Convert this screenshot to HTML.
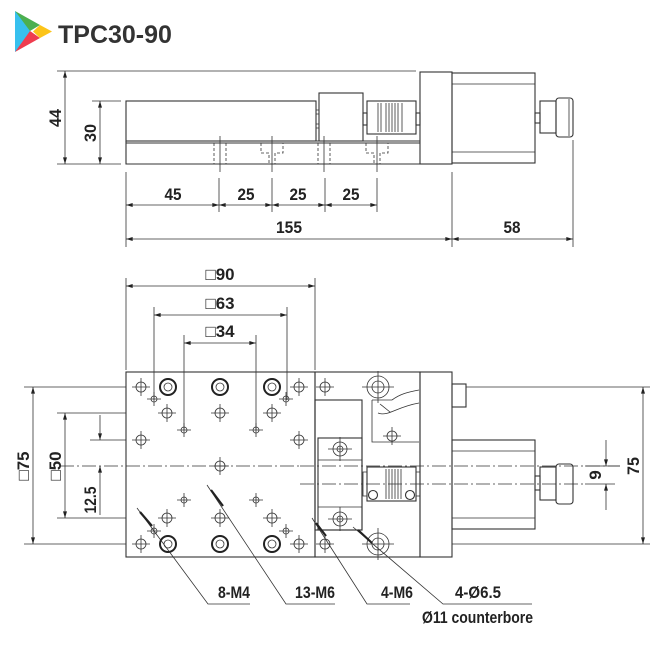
<!DOCTYPE html>
<html><head><meta charset="utf-8"><style>
html,body{margin:0;padding:0;background:#fff}
svg{display:block}
text{font-family:"Liberation Sans",sans-serif;fill:#222}
.l{stroke:#333;stroke-width:1.1;fill:none}
.t{stroke:#333;stroke-width:0.8;fill:none}
.d{stroke:#333;stroke-width:0.8;fill:none;stroke-dasharray:14 3 2 3}
.h{stroke:#333;stroke-width:0.8;fill:none;stroke-dasharray:3 2}
.dim{font-size:17px;font-weight:bold}
</style></head><body>
<svg width="660" height="666" viewBox="0 0 660 666" xmlns="http://www.w3.org/2000/svg">
<defs>
<marker id="a" viewBox="0 0 10 6" refX="10" refY="3" markerWidth="12" markerHeight="4" orient="auto-start-reverse" markerUnits="userSpaceOnUse"><path d="M0,0 L10,3 L0,6z" fill="#222"/></marker>
<g id="hs"><circle r="5" class="t"/><path d="M-9,0H9M0,-9V9" class="t"/></g>
<g id="hm"><circle r="3" class="t"/><path d="M-7,0H7M0,-7V7" class="t"/></g>
<g id="cb"><circle r="8" stroke="#222" stroke-width="2" fill="none"/><circle r="4" class="t"/></g>
</defs>
<!-- logo -->
<polygon points="15,11 15,52 30,37 30,26" fill="#37c0ee"/>
<polygon points="15,11 40,25 30,31" fill="#4caf50"/>
<polygon points="15,52 40,38 30,31" fill="#ef3d4f"/>
<polygon points="40,25 52,31.5 40,38 33,31.5" fill="#fcc419"/>
<text x="58" y="43" style="font-size:25px;font-weight:bold;fill:#333">TPC30-90</text>

<!-- SIDE VIEW -->
<path class="t" d="M57,71H416M57,164H121M92,101H121"/>
<line class="t" x1="65" y1="71" x2="65" y2="164" marker-start="url(#a)" marker-end="url(#a)"/>
<line class="t" x1="100" y1="101" x2="100" y2="164" marker-start="url(#a)" marker-end="url(#a)"/>
<text class="dim" transform="translate(61,118) rotate(-90)" text-anchor="middle" textLength="18" lengthAdjust="spacingAndGlyphs">44</text>
<text class="dim" transform="translate(96,133) rotate(-90)" text-anchor="middle" textLength="18" lengthAdjust="spacingAndGlyphs">30</text>
<rect class="l" x="126" y="101" width="190" height="40"/>
<path class="l" d="M126,141V164H420M126,143H420M126,141H420"/>
<path class="t" d="M316,110h3v4h-3M316,124h3v4h-3M319,101V141"/>
<rect class="l" x="319" y="93" width="44" height="48"/>
<rect class="l" x="363" y="113" width="4" height="12"/>
<rect class="l" x="367" y="101" width="49" height="33"/>
<path class="t" d="M378,103v29M381,103v29M386,103v29M389,103v29M392,103v29M395,103v29M398,103v29M402,103v29"/>
<rect class="l" x="416" y="113" width="4" height="12"/>
<rect class="l" x="420" y="72" width="32" height="92"/>
<rect class="l" x="452" y="73" width="83" height="90"/>
<path class="t" d="M452,84H535M452,152H535"/>
<rect class="l" x="535" y="113" width="5" height="10"/>
<rect class="l" x="540" y="101" width="16" height="32"/>
<rect class="l" x="556" y="98" width="17" height="39" rx="3"/>
<path class="t" d="M569,99v37"/>
<path class="h" d="M214,143V164M226,143V164M318,143V164M330,143V164"/>
<path class="t" d="M220,136V172M324,136V172M272,136V172M377,136V172"/>
<path class="h" d="M261,143h22v10h-8v11h-6M261,143v10h8v11M366,143h22v10h-8v11M366,143v10h8v11"/>
<!-- dims -->
<path class="t" d="M126,172V247M219,178V212M272,178V212M325,178V212M377,178V212M452,172V247M573,140V247"/>
<line class="t" x1="126" y1="205" x2="219" y2="205" marker-start="url(#a)" marker-end="url(#a)"/>
<line class="t" x1="219" y1="205" x2="272" y2="205" marker-start="url(#a)" marker-end="url(#a)"/>
<line class="t" x1="272" y1="205" x2="325" y2="205" marker-start="url(#a)" marker-end="url(#a)"/>
<line class="t" x1="325" y1="205" x2="377" y2="205" marker-start="url(#a)" marker-end="url(#a)"/>
<line class="t" x1="126" y1="239" x2="452" y2="239" marker-start="url(#a)" marker-end="url(#a)"/>
<line class="t" x1="452" y1="239" x2="573" y2="239" marker-start="url(#a)" marker-end="url(#a)"/>
<text class="dim" x="173" y="200" text-anchor="middle" textLength="17" lengthAdjust="spacingAndGlyphs">45</text>
<text class="dim" x="246" y="200" text-anchor="middle" textLength="17" lengthAdjust="spacingAndGlyphs">25</text>
<text class="dim" x="298" y="200" text-anchor="middle" textLength="17" lengthAdjust="spacingAndGlyphs">25</text>
<text class="dim" x="351" y="200" text-anchor="middle" textLength="17" lengthAdjust="spacingAndGlyphs">25</text>
<text class="dim" x="289" y="233" text-anchor="middle" textLength="26" lengthAdjust="spacingAndGlyphs">155</text>
<text class="dim" x="512" y="233" text-anchor="middle" textLength="17" lengthAdjust="spacingAndGlyphs">58</text>

<!-- PLAN VIEW dims top -->
<path class="t" d="M126,278V370M315,278V370M154,307V400M287,307V400M184,335V430M256,335V430"/>
<line class="t" x1="126" y1="286" x2="315" y2="286" marker-start="url(#a)" marker-end="url(#a)"/>
<line class="t" x1="154" y1="315" x2="287" y2="315" marker-start="url(#a)" marker-end="url(#a)"/>
<line class="t" x1="184" y1="343" x2="256" y2="343" marker-start="url(#a)" marker-end="url(#a)"/>
<text class="dim" x="220" y="280" text-anchor="middle" textLength="29" lengthAdjust="spacingAndGlyphs">□90</text>
<text class="dim" x="220" y="309" text-anchor="middle" textLength="29" lengthAdjust="spacingAndGlyphs">□63</text>
<text class="dim" x="220" y="337" text-anchor="middle" textLength="29" lengthAdjust="spacingAndGlyphs">□34</text>

<!-- plan body -->
<rect class="l" x="126" y="372" width="189" height="185"/>
<rect class="l" x="315" y="372" width="105" height="185"/>
<rect class="l" x="420" y="372" width="32" height="185"/>
<rect class="l" x="315" y="400" width="47" height="130"/>
<rect class="l" x="318" y="438" width="44" height="92"/>
<path class="t" d="M318,460H362M318,507H362"/>
<path class="t" d="M372,400V442H419M372,400H392"/>
<path class="t" d="M392,400c8,-6 16,-8 27,-10M378,413c10,4 18,-6 41,-10M380,404l10,8"/>
<use href="#hs" x="392" y="436"/>
<g transform="translate(340,449)"><circle r="7" class="t"/><circle r="3" class="t"/><path d="M-12,0H12M0,-12V12" class="t"/></g>
<g transform="translate(340,519)"><circle r="7" class="t"/><circle r="3" class="t"/><path d="M-12,0H12M0,-12V12" class="t"/></g>
<g transform="translate(378,387)"><circle r="11" class="t"/><circle r="6" class="t"/><path d="M-16,0H16M0,-16V16" class="t"/></g>
<g transform="translate(378,544)"><circle r="11" class="t"/><circle r="6" class="t"/><path d="M-16,0H16M0,-16V16" class="t"/></g>
<use href="#hs" x="325" y="387"/><use href="#hs" x="325" y="544"/>
<rect class="l" x="367" y="467" width="49" height="34"/>
<path class="t" d="M363,472h4v24h-4zM416,472h4v24h-4z"/>
<path class="t" d="M386,469v30M389,469v30M392,469v30M395,469v30M398,469v30M401,469v30"/>
<circle cx="373" cy="495" r="4.5" class="l"/><circle cx="410" cy="495" r="4.5" class="l"/>
<rect class="l" x="452" y="384" width="14" height="23"/>
<rect class="l" x="452" y="440" width="83" height="89"/>
<path class="t" d="M452,451H535M452,518H535"/>
<rect class="l" x="535" y="476" width="5" height="14"/>
<rect class="l" x="540" y="467" width="16" height="33"/>
<rect class="l" x="556" y="464" width="17" height="40" rx="3"/>
<!-- holes -->
<use href="#hs" x="141" y="387"/><use href="#hm" x="154" y="399"/><use href="#hs" x="167" y="413"/><use href="#hm" x="184" y="430"/>
<use href="#hs" x="141" y="440"/><use href="#hs" x="220" y="413"/><use href="#hs" x="220" y="466"/><use href="#hm" x="256" y="430"/>
<use href="#hs" x="272" y="413"/><use href="#hm" x="286" y="399"/><use href="#hs" x="299" y="387"/><use href="#hs" x="299" y="440"/>
<use href="#hm" x="184" y="500"/><use href="#hs" x="167" y="518"/><use href="#hm" x="154" y="531"/><use href="#hs" x="141" y="544"/>
<use href="#hs" x="220" y="518"/><use href="#hm" x="256" y="500"/><use href="#hs" x="272" y="518"/><use href="#hm" x="286" y="531"/><use href="#hs" x="299" y="544"/>
<use href="#cb" x="168" y="387"/><use href="#cb" x="220" y="387"/><use href="#cb" x="272" y="387"/>
<use href="#cb" x="168" y="544"/><use href="#cb" x="220" y="544"/><use href="#cb" x="272" y="544"/>
<!-- center lines -->
<path class="d" d="M60,466H300M300,466H620"/>
<path class="d" d="M300,484H585"/>
<!-- left dims -->
<path class="t" d="M24,387H126M57,413H126M57,518H126M24,544H126M90,440H126"/>
<line class="t" x1="33" y1="387" x2="33" y2="544" marker-start="url(#a)" marker-end="url(#a)"/>
<line class="t" x1="65" y1="413" x2="65" y2="518" marker-start="url(#a)" marker-end="url(#a)"/>
<line class="t" x1="100" y1="415" x2="100" y2="440" marker-end="url(#a)"/>
<line class="t" x1="100" y1="515" x2="100" y2="466" marker-end="url(#a)"/>
<text class="dim" transform="translate(29,466) rotate(-90)" text-anchor="middle" textLength="29" lengthAdjust="spacingAndGlyphs">□75</text>
<text class="dim" transform="translate(61,466) rotate(-90)" text-anchor="middle" textLength="29" lengthAdjust="spacingAndGlyphs">□50</text>
<text class="dim" transform="translate(96,500) rotate(-90)" text-anchor="middle" textLength="27" lengthAdjust="spacingAndGlyphs">12.5</text>
<!-- right dims -->
<path class="t" d="M466,387H650M452,544H650M585,466H620M585,484H615"/>
<line class="t" x1="643" y1="387" x2="643" y2="544" marker-start="url(#a)" marker-end="url(#a)"/>
<line class="t" x1="606" y1="440" x2="606" y2="466" marker-end="url(#a)"/>
<line class="t" x1="606" y1="510" x2="606" y2="484" marker-end="url(#a)"/>
<text class="dim" transform="translate(639,466) rotate(-90)" text-anchor="middle" textLength="18" lengthAdjust="spacingAndGlyphs">75</text>
<text class="dim" transform="translate(601,475) rotate(-90)" text-anchor="middle">9</text>
<!-- leaders -->
<path class="t" d="M137,508L208,604H250M207,485L286,604H335M312,518L367,604H410M353,527L443,604H532"/>
<path d="M140,512l12,14M211,490l12,16M316,523l10,13M358,530l14,13" stroke="#222" stroke-width="2.2"/>
<text class="dim" x="218" y="598" textLength="32" lengthAdjust="spacingAndGlyphs">8-M4</text>
<text class="dim" x="295" y="598" textLength="40" lengthAdjust="spacingAndGlyphs">13-M6</text>
<text class="dim" x="381" y="598" textLength="32" lengthAdjust="spacingAndGlyphs">4-M6</text>
<text class="dim" x="455" y="598" textLength="46" lengthAdjust="spacingAndGlyphs">4-Ø6.5</text>
<text class="dim" x="422" y="623" textLength="111" lengthAdjust="spacingAndGlyphs">Ø11 counterbore</text>
</svg>
</body></html>
